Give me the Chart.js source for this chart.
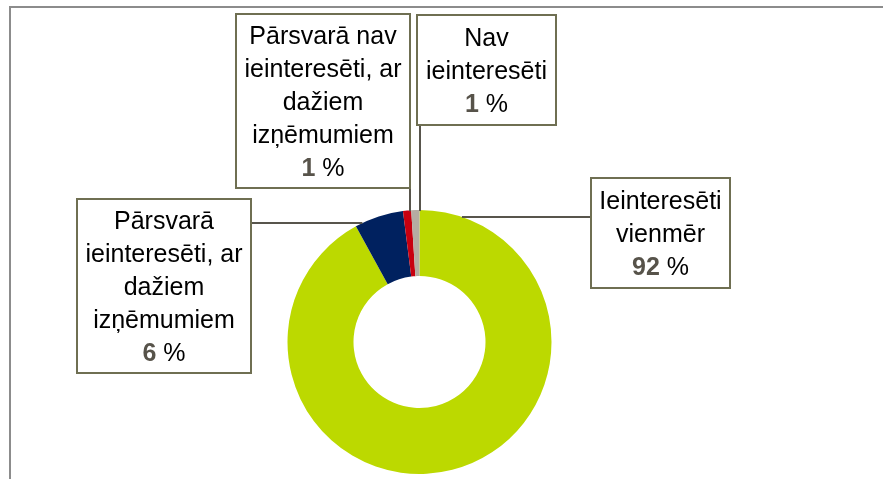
<!DOCTYPE html>
<html>
<head>
<meta charset="utf-8">
<script src="https://cdn.jsdelivr.net/npm/chart.js@4"></script>
<style>
  html, body { margin: 0; padding: 0; background: #fff; }
  #wrap { width: 883px; height: 479px; position: relative; }
</style>
</head>
<body>
<div id="wrap"><canvas id="pie"></canvas></div>
<script>
// --- Data ---
const categories = [
    'Ieinteresēti vienmēr',
    'Pārsvarā ieinteresēti, ar dažiem izņēmumiem',
    'Pārsvarā nav ieinteresēti, ar dažiem izņēmumiem',
    'Nav ieinteresēti'
];
const values = [92, 6, 1, 1];
// label text split the way the boxes wrap it
const labelLines = [
    ['Ieinteresēti', 'vienmēr'],
    ['Pārsvarā', 'ieinteresēti, ar', 'dažiem', 'izņēmumiem'],
    ['Pārsvarā nav', 'ieinteresēti, ar', 'dažiem', 'izņēmumiem'],
    ['Nav', 'ieinteresēti']
];
const sliceColors = ['#bcd900', '#00215f', '#c8000f', '#b5aca2'];

// --- Label box layout (one per slice, same order) ---
// side: where the leader leaves the box; lx/ly: fixed leader coordinate
const boxes = [
    { x: 591, y: 178, w: 139, h: 110, side: 'left', ly: 217 },
    { x: 77, y: 199, w: 174, h: 174, side: 'right', ly: 223 },
    { x: 236, y: 14, w: 174, h: 174, side: 'bottom', lx: 410 },
    { x: 417, y: 15, w: 139, h: 110, side: 'bottom', lx: 420 }
];

const FONT = '"Liberation Sans", Arial, Helvetica, sans-serif';
const lineH = 33;

const labelBoxes = {
    id: 'labelBoxes',
    beforeDraw(chart) {
        const ctx = chart.ctx;
        // outer frame (only top and left edges are visible)
        ctx.save();
        ctx.strokeStyle = '#8c8c8c';
        ctx.lineWidth = 2;
        ctx.beginPath();
        ctx.moveTo(10, 479);
        ctx.lineTo(10, 7);
        ctx.lineTo(883, 7);
        ctx.stroke();
        ctx.restore();
    },
    afterDatasetsDraw(chart) {
        const ctx = chart.ctx;
        const arcs = chart.getDatasetMeta(0).data;
        ctx.save();

        // leader lines
        ctx.strokeStyle = '#58554c';
        ctx.lineWidth = 2;
        boxes.forEach((b, i) => {
            const arc = arcs[i];
            const r = arc.outerRadius;
            let x1, y1, x2, y2;
            if (b.side === 'left' || b.side === 'right') {
                const dy = b.ly - arc.y;
                const dx = Math.sqrt(Math.max(r * r - dy * dy, 0));
                y1 = y2 = b.ly;
                if (b.side === 'left') { x1 = b.x; x2 = arc.x + dx; }
                else { x1 = b.x + b.w; x2 = arc.x - dx; }
            } else {
                const dx = b.lx - arc.x;
                const dy = Math.sqrt(Math.max(r * r - dx * dx, 0));
                x1 = x2 = b.lx;
                y1 = b.y + b.h;
                y2 = arc.y - dy + 1;
            }
            ctx.beginPath();
            ctx.moveTo(x1, y1);
            ctx.lineTo(x2, y2);
            ctx.stroke();
        });

        // boxes and text
        boxes.forEach((b, i) => {
            ctx.fillStyle = '#ffffff';
            ctx.fillRect(b.x, b.y, b.w, b.h);
            ctx.strokeStyle = '#6f6f52';
            ctx.lineWidth = 2;
            ctx.strokeRect(b.x, b.y, b.w, b.h);

            const lines = labelLines[i];
            const n = lines.length + 1;
            const cx = b.x + b.w / 2;
            const top = b.y + (b.h - n * lineH) / 2 + lineH / 2 + 2;
            ctx.textBaseline = 'middle';
            ctx.textAlign = 'center';
            ctx.fillStyle = '#000000';
            ctx.font = '25px ' + FONT;
            lines.forEach((t, k) => ctx.fillText(t, cx, top + k * lineH));

            // value line: bold number + normal percent sign
            const yv = top + lines.length * lineH;
            const num = String(values[i]);
            ctx.font = 'bold 25px ' + FONT;
            const wNum = ctx.measureText(num).width;
            ctx.font = '25px ' + FONT;
            const wPct = ctx.measureText(' %').width;
            const start = cx - (wNum + wPct) / 2;
            ctx.textAlign = 'left';
            ctx.font = 'bold 25px ' + FONT;
            ctx.fillStyle = '#57534a';
            ctx.fillText(num, start, yv);
            ctx.font = '25px ' + FONT;
            ctx.fillStyle = '#000000';
            ctx.fillText(' %', start + wNum, yv);
        });
        ctx.restore();
    }
};

const ctxPie = document.getElementById('pie').getContext('2d');
const pieChart = new Chart(ctxPie, {
    type: 'doughnut',
    data: {
        labels: categories,
        datasets: [{
            data: values,
            backgroundColor: sliceColors,
            borderWidth: 0
        }]
    },
    options: {
        responsive: true,
        maintainAspectRatio: false,
        animation: false,
        cutout: '50%',
        layout: {
            padding: { left: 287, right: 331, top: 210, bottom: 5 }
        },
        plugins: {
            legend: { display: false },
            tooltip: { enabled: false }
        }
    },
    plugins: [labelBoxes]
});
</script>
</body>
</html>
